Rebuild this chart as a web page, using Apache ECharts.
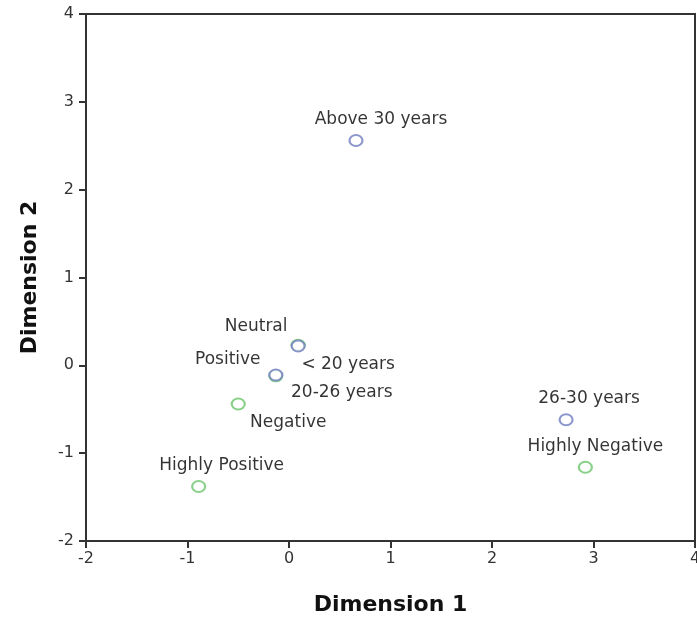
<!DOCTYPE html>
<html>
<head>
<meta charset="utf-8">
<script src="https://cdn.jsdelivr.net/npm/echarts@6/dist/echarts.min.js"></script>
<style>
  html, body { margin: 0; padding: 0; background: #fff; }
  #chart { width: 697px; height: 618px; }
</style>
</head>
<body>
<div id="chart"></div>
<script>
// age groups (blue points)
const ageNames = ['< 20 years', '20-26 years', '26-30 years', 'Above 30 years']
const ageDim1 = [0.09, -0.13, 2.73, 0.66]
const ageDim2 = [0.22, -0.11, -0.62, 2.56]

// attitude categories (green points)
const attitudeNames = ['Highly Positive', 'Positive', 'Neutral', 'Negative', 'Highly Negative']
const attitudeDim1 = [-0.89, -0.13, 0.09, -0.50, 2.92]
const attitudeDim2 = [-1.38, -0.12, 0.23, -0.44, -1.16]

// label placement around each point (pixels, from point centre)
const ageLabelOffsets = [[50, 19], [66, 18], [23, -21], [25, -21]]
const attitudeLabelOffsets = [[23, -21], [-48, -16], [-42, -19], [50, 19], [10, -21]]

const labelFont = 'DejaVu Sans'

function buildPoints (names, xs, ys, offsets) {
  return names.map((name, i) => ({
    name: name,
    value: [xs[i], ys[i]],
    label: { offset: offsets[i] }
  }))
}

const chart = echarts.init(document.getElementById('chart'))

const baseLabel = {
  show: true,
  position: 'inside',
  formatter: '{b}',
  fontFamily: labelFont,
  fontSize: 17,
  color: '#000',
  textBorderWidth: 0
}

const axisCommon = {
  type: 'value',
  min: -2,
  max: 4,
  interval: 1,
  nameLocation: 'middle',
  nameTextStyle: { fontFamily: labelFont, fontWeight: 'bold', fontSize: 22, color: '#111' },
  splitLine: { show: false },
  axisLine: { show: true, onZero: false, lineStyle: { color: '#333', width: 2 } },
  axisTick: { show: true, length: 7, lineStyle: { color: '#333', width: 2 } }
}

chart.setOption({
  animation: false,
  grid: {
    left: 86,
    right: 2,
    top: 14,
    bottom: 77,
    outerBoundsMode: 'none',
    show: true,
    borderColor: '#333',
    borderWidth: 2
  },
  xAxis: Object.assign({}, axisCommon, {
    name: 'Dimension 1',
    nameGap: 53,
    axisLabel: { fontFamily: labelFont, fontSize: 16, color: '#333', margin: 10 }
  }),
  yAxis: Object.assign({}, axisCommon, {
    name: 'Dimension 2',
    nameGap: 45,
    axisLabel: { fontFamily: labelFont, fontSize: 16, color: '#333', margin: 12 }
  }),
  series: [
    {
      name: 'Attitude',
      type: 'scatter',
      symbol: 'emptyCircle',
      symbolSize: [13, 11],
      itemStyle: { color: '#6cc46c', borderWidth: 2 },
      label: baseLabel,
      data: buildPoints(attitudeNames, attitudeDim1, attitudeDim2, attitudeLabelOffsets)
    },
    {
      name: 'Age',
      type: 'scatter',
      symbol: 'emptyCircle',
      symbolSize: [13, 11],
      itemStyle: { color: '#6f7dbf', borderWidth: 2 },
      label: baseLabel,
      data: buildPoints(ageNames, ageDim1, ageDim2, ageLabelOffsets)
    }
  ]
})
</script>
</body>
</html>
